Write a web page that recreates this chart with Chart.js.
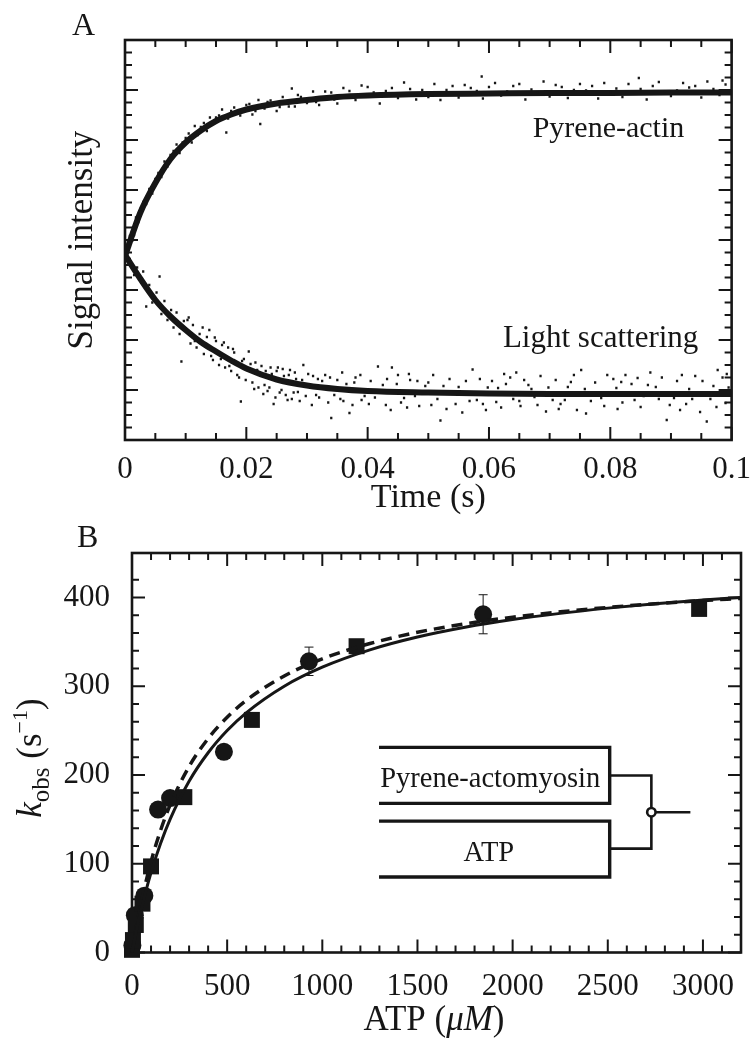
<!DOCTYPE html>
<html>
<head>
<meta charset="utf-8">
<script src="https://cdn.jsdelivr.net/npm/chart.js@4.4.1/dist/chart.umd.min.js"></script>
<style>
  html, body { margin: 0; padding: 0; background: #fff; }
  #wrap { position: relative; width: 754px; height: 1050px; }
  canvas { position: absolute; left: 0; }
  #chart-a { top: 0; }
  #chart-b { top: 520px; }
</style>
</head>
<body>
<div id="wrap">
  <canvas id="chart-a" width="754" height="520"></canvas>
  <canvas id="chart-b" width="754" height="530"></canvas>
</div>
<script>
// ---- panel A : transients ----
const timeTicks = [0, 0.02, 0.04, 0.06, 0.08, 0.1];
const timeTickLabels = ['0', '0.02', '0.04', '0.06', '0.08', '0.1'];
const signalMajor = [0, 1, 2, 3, 4, 5, 6, 7, 8];

// fitted curves
const fitTime = [0, 0.0025, 0.005, 0.0075, 0.01, 0.0125, 0.015, 0.0175, 0.02, 0.025, 0.03, 0.035, 0.04, 0.05, 0.06, 0.07, 0.08, 0.09, 0.1];
const pyreneFit = [3.68, 4.54, 5.14, 5.62, 5.95, 6.19, 6.38, 6.51, 6.61, 6.73, 6.8, 6.86, 6.89, 6.92, 6.93, 6.94, 6.94, 6.95, 6.95];
const scatterFit = [3.7, 3.23, 2.8, 2.47, 2.2, 1.96, 1.77, 1.59, 1.43, 1.21, 1.09, 1.02, 0.98, 0.95, 0.93, 0.92, 0.92, 0.92, 0.92];

// raw points around the fitted band
const pyreneDots = [[0.0008,4.08],[0.0012,3.99],[0.0015,4.1],[0.0018,4.45],[0.0022,4.36],[0.0025,4.62],[0.003,4.76],[0.0035,4.72],[0.004,5.02],[0.0045,4.93],[0.005,5.22],[0.0055,5.34],[0.006,5.26],[0.0065,5.57],[0.007,5.47],[0.0075,5.7],[0.008,5.78],[0.0085,5.91],[0.009,5.74],[0.0095,5.95],[0.01,6.04],[0.0105,6.13],[0.011,5.95],[0.0115,6.28],[0.012,6.10],[0.0125,6.26],[0.013,6.34],[0.0135,6.18],[0.014,6.45],[0.015,6.45],[0.0155,6.49],[0.016,6.61],[0.0167,6.15],[0.017,6.43],[0.0175,6.58],[0.018,6.65],[0.019,6.49],[0.02,6.7],[0.0205,6.72],[0.021,6.51],[0.0215,6.58],[0.022,6.80],[0.0223,6.32],[0.023,6.63],[0.0235,6.76],[0.024,6.79],[0.025,6.58],[0.0255,6.66],[0.026,6.86],[0.027,6.67],[0.0275,7.03],[0.028,6.67],[0.0285,6.9],[0.029,6.86],[0.03,6.74],[0.031,6.97],[0.0315,6.76],[0.032,6.70],[0.033,6.97],[0.034,6.95],[0.0345,6.81],[0.035,6.73],[0.036,7.04],[0.037,6.98],[0.038,6.80],[0.039,7.09],[0.04,7.06],[0.041,6.95],[0.042,6.73],[0.043,6.98],[0.044,7.04],[0.045,6.84],[0.046,7.15],[0.047,7.02],[0.048,6.81],[0.049,7.0],[0.05,6.86],[0.051,7.12],[0.052,6.80],[0.053,7.0],[0.054,7.08],[0.055,6.85],[0.056,7.1],[0.057,7.04],[0.058,6.98],[0.0588,7.27],[0.059,6.83],[0.06,7.06],[0.061,7.14],[0.062,6.89],[0.063,6.97],[0.064,7.08],[0.065,7.12],[0.066,6.81],[0.067,7.01],[0.068,6.95],[0.069,7.17],[0.07,6.87],[0.071,7.1],[0.072,7.06],[0.073,6.84],[0.074,7.0],[0.075,7.12],[0.076,6.99],[0.077,7.08],[0.078,6.83],[0.079,7.14],[0.08,6.96],[0.081,7.03],[0.082,6.86],[0.083,7.12],[0.0847,7.24],[0.085,7.02],[0.086,6.81],[0.087,7.08],[0.088,7.16],[0.089,6.97],[0.09,6.88],[0.091,6.99],[0.092,7.14],[0.093,7.05],[0.094,7.08],[0.095,6.85],[0.096,7.17],[0.097,7.02],[0.098,6.90],[0.0985,7.19],[0.099,7.11]];

const scatterDots = [[0.0008,3.62],[0.0015,3.3],[0.002,3.45],[0.003,3.37],[0.0035,2.67],[0.004,3.1],[0.0045,2.75],[0.0052,2.95],[0.0057,3.27],[0.006,2.52],[0.0065,2.78],[0.007,2.4],[0.0076,2.6],[0.008,2.25],[0.0085,2.55],[0.009,2.12],[0.0093,1.57],[0.0097,2.38],[0.0103,2.4],[0.0105,2.45],[0.0108,1.93],[0.0112,2.3],[0.0115,1.98],[0.0118,1.85],[0.0123,2.12],[0.0128,2.25],[0.013,1.72],[0.0135,2.06],[0.0139,2.2],[0.0142,1.68],[0.0145,1.6],[0.0148,2.05],[0.015,1.98],[0.0155,1.5],[0.0158,1.62],[0.016,1.9],[0.0163,1.95],[0.0165,1.45],[0.017,1.85],[0.0172,1.48],[0.0175,1.38],[0.0178,1.82],[0.018,1.75],[0.0185,1.3],[0.0188,1.25],[0.0191,0.77],[0.0193,1.58],[0.0196,1.62],[0.0199,1.2],[0.0204,1.77],[0.0207,1.52],[0.021,1.15],[0.0213,1.02],[0.0215,1.55],[0.0218,1.4],[0.022,1.05],[0.0225,1.48],[0.0228,0.92],[0.023,1.1],[0.0232,1.38],[0.0235,0.98],[0.0238,1.05],[0.024,1.45],[0.0242,1.32],[0.0245,0.72],[0.0248,0.85],[0.025,1.38],[0.0252,1.45],[0.0255,0.95],[0.0258,1.0],[0.026,1.42],[0.0262,1.28],[0.0265,0.9],[0.0268,0.8],[0.027,1.3],[0.0272,1.4],[0.0275,0.82],[0.0278,0.95],[0.028,1.35],[0.0282,1.22],[0.0285,0.96],[0.0288,0.78],[0.0292,1.2],[0.0294,1.5],[0.0298,0.88],[0.0302,1.32],[0.0308,0.7],[0.031,1.28],[0.0315,0.9],[0.0318,1.22],[0.032,0.85],[0.0325,1.18],[0.033,1.3],[0.0335,0.75],[0.0338,1.25],[0.034,0.44],[0.0345,0.9],[0.035,1.2],[0.0355,0.82],[0.0358,1.35],[0.036,0.78],[0.0365,1.12],[0.037,0.54],[0.0375,0.7],[0.0378,1.15],[0.038,1.25],[0.0388,1.3],[0.039,0.8],[0.0395,0.88],[0.0402,0.72],[0.0405,1.18],[0.0412,0.85],[0.0417,1.47],[0.0425,1.1],[0.043,0.7],[0.0432,1.22],[0.0438,0.6],[0.044,1.45],[0.0448,1.12],[0.045,1.3],[0.0455,0.75],[0.046,0.84],[0.0465,0.65],[0.0468,1.32],[0.047,1.2],[0.0478,0.88],[0.0482,1.18],[0.0485,0.68],[0.0495,1.08],[0.05,1.15],[0.0505,0.7],[0.0508,1.3],[0.0515,0.82],[0.052,0.39],[0.0525,1.08],[0.053,0.62],[0.0535,1.22],[0.0545,0.72],[0.055,1.06],[0.0556,0.55],[0.0562,1.18],[0.0568,0.78],[0.0573,1.41],[0.058,0.8],[0.0585,1.22],[0.059,0.72],[0.0595,0.6],[0.0598,1.05],[0.0605,1.18],[0.0612,0.76],[0.0615,1.04],[0.062,0.65],[0.0625,1.32],[0.0628,1.12],[0.0635,1.25],[0.064,0.82],[0.0645,1.35],[0.065,0.78],[0.0652,0.68],[0.0658,1.2],[0.0665,1.1],[0.067,1.02],[0.0675,0.86],[0.068,0.7],[0.0685,1.28],[0.0694,0.57],[0.0698,1.05],[0.0705,0.8],[0.071,1.2],[0.0715,0.62],[0.0718,0.72],[0.0725,0.8],[0.073,1.06],[0.0735,1.16],[0.074,1.3],[0.0745,0.6],[0.0752,1.4],[0.0758,1.02],[0.076,0.53],[0.0768,0.78],[0.0775,1.15],[0.0785,0.84],[0.079,0.68],[0.0795,1.3],[0.0805,1.22],[0.081,1.04],[0.0812,0.62],[0.0818,1.16],[0.082,0.75],[0.0825,1.3],[0.0835,1.12],[0.084,0.8],[0.0845,1.24],[0.085,0.66],[0.0855,0.88],[0.0862,1.1],[0.0866,1.35],[0.0875,1.06],[0.088,0.82],[0.0885,1.25],[0.0893,0.4],[0.0898,0.7],[0.0905,0.84],[0.091,1.18],[0.0915,0.6],[0.0918,1.3],[0.0925,0.72],[0.093,1.02],[0.0935,0.82],[0.094,1.28],[0.0948,0.56],[0.0952,1.18],[0.0959,0.37],[0.0965,0.82],[0.097,1.08],[0.0975,0.66],[0.0977,1.4],[0.0985,1.25],[0.099,0.74],[0.0992,1.32],[0.0995,1.05]];

// ---- panel B : kobs vs ATP ----
const atpTicks = [0, 500, 1000, 1500, 2000, 2500, 3000];
const kobsTicks = [0, 100, 200, 300, 400];

const fitAtp = [0, 25, 50, 100, 150, 200, 300, 400, 500, 600, 800, 1000, 1250, 1500, 1750, 2000, 2250, 2500, 2750, 3000, 3200];
const solidFit = [0, 26.5, 50, 90, 122.7, 150, 192.9, 225, 250, 270, 300, 321.4, 340.9, 355.3, 366.3, 375, 382, 387.9, 392.9, 397, 400];
const dashedFit = [0, 31, 57.9, 102.3, 137.5, 166, 209.5, 241, 265, 283.9, 311.5, 330.8, 348, 360.7, 370.2, 377.7, 383.7, 388.7, 392.9, 396.4, 398.9];

const squareAtp = [0, 5, 20, 55, 100, 275, 630, 1180, 2980];
const squareKobs = [3, 14, 31, 55, 97, 175, 262, 345, 387];
const circleAtp = [2, 15, 65, 137, 200, 483, 930, 1845];
const circleKobs = [8, 42, 64, 161, 174, 226, 328, 381];
const circleErr = [0, 0, 0, 0, 0, 0, 16, 22];

const ink = '#161616';
const serif = '"Liberation Serif", "DejaVu Serif", serif';

Chart.defaults.font.family = serif;
Chart.defaults.font.size = 31;
Chart.defaults.color = ink;

function pairs(xs, ys) {
  return xs.map((x, i) => ({x: x, y: ys[i]}));
}
function isMajor(v, list) {
  return list.some(m => Math.abs(m - v) < 1e-7);
}

// box round the plot with inward ticks on all four sides
const frameTicks = {
  id: 'frameTicks',
  beforeDatasetsDraw(chart, args, opts) {
    const {ctx, chartArea: a, scales: {x, y}} = chart;
    ctx.save();
    ctx.strokeStyle = ink;
    ctx.lineWidth = 2;
    ctx.beginPath();
    x.ticks.forEach(t => {
      const px = x.getPixelForValue(t.value);
      const len = isMajor(t.value, opts.xMajor) ? 13 : 7;
      ctx.moveTo(px, a.bottom); ctx.lineTo(px, a.bottom - len);
      ctx.moveTo(px, a.top); ctx.lineTo(px, a.top + len);
    });
    y.ticks.forEach(t => {
      const py = y.getPixelForValue(t.value);
      const len = isMajor(t.value, opts.yMajor) ? 13 : 7;
      ctx.moveTo(a.left, py); ctx.lineTo(a.left + len, py);
      ctx.moveTo(a.right, py); ctx.lineTo(a.right - len, py);
    });
    ctx.stroke();
    ctx.lineWidth = 2.6;
    ctx.strokeRect(a.left, a.top, a.right - a.left, a.bottom - a.top);
    ctx.restore();
  }
};

function drawRuns(ctx, runs, cx, cy, rotate) {
  ctx.save();
  ctx.translate(cx, cy);
  if (rotate) ctx.rotate(-Math.PI / 2);
  ctx.textAlign = 'left';
  ctx.textBaseline = 'alphabetic';
  ctx.fillStyle = ink;
  let total = 0;
  runs.forEach(r => { ctx.font = r.font; r.w = ctx.measureText(r.text).width; total += r.w; });
  let x = -total / 2;
  runs.forEach(r => { ctx.font = r.font; ctx.fillText(r.text, x, r.dy || 0); x += r.w; });
  ctx.restore();
}

const labelsA = {
  id: 'labelsA',
  afterDraw(chart) {
    const {ctx, scales: {x, y}} = chart;
    ctx.save();
    ctx.fillStyle = ink;
    ctx.textBaseline = 'alphabetic';
    ctx.textAlign = 'left';
    ctx.font = '32px ' + serif;
    ctx.fillText('A', 72, 35);
    ctx.font = '30px ' + serif;
    ctx.fillText('Pyrene-actin', x.getPixelForValue(0.0672), y.getPixelForValue(6.06));
    ctx.font = '31px ' + serif;
    ctx.fillText('Light scattering', x.getPixelForValue(0.0623), y.getPixelForValue(1.87));
    ctx.restore();
  }
};

new Chart(document.getElementById('chart-a'), {
  type: 'scatter',
  data: {
    datasets: [
      {
        data: pyreneDots.map(p => ({x: p[0], y: p[1]})),
        pointStyle: 'rect', pointRadius: 1.6, borderWidth: 0, backgroundColor: ink
      },
      {
        data: scatterDots.map(p => ({x: p[0], y: p[1]})),
        pointStyle: 'rect', pointRadius: 1.6, borderWidth: 0, backgroundColor: ink
      },
      {
        data: pairs(fitTime, pyreneFit), showLine: true, pointRadius: 0,
        borderColor: ink, borderWidth: 6, cubicInterpolationMode: 'monotone'
      },
      {
        data: pairs(fitTime, scatterFit), showLine: true, pointRadius: 0,
        borderColor: ink, borderWidth: 6, cubicInterpolationMode: 'monotone'
      }
    ]
  },
  options: {
    responsive: false,
    animation: false,
    layout: {padding: {top: 40, right: 17, left: 0, bottom: 0}},
    plugins: {
      legend: {display: false},
      tooltip: {enabled: false},
      frameTicks: {xMajor: timeTicks, yMajor: signalMajor}
    },
    scales: {
      x: {
        type: 'linear', min: 0, max: 0.1,
        grid: {display: false}, border: {display: false},
        ticks: {
          stepSize: 0.005, autoSkip: false, maxRotation: 0, padding: 3,
          callback: v => {
            const i = timeTicks.findIndex(m => Math.abs(m - v) < 1e-7);
            return i >= 0 ? timeTickLabels[i] : '';
          }
        },
        title: {display: true, text: 'Time (s)', font: {size: 34}, padding: {top: 0, bottom: 2}},
        afterFit: s => { s.height = 80; }
      },
      y: {
        type: 'linear', min: 0, max: 8,
        grid: {display: false}, border: {display: false},
        ticks: {stepSize: 0.25, autoSkip: false, callback: () => ''},
        title: {display: true, text: 'Signal intensity', font: {size: 35}, padding: {top: 62, bottom: 0}},
        afterFit: s => { s.width = 125; }
      }
    }
  },
  plugins: [frameTicks, labelsA]
});

const errorBars = {
  id: 'errorBars',
  beforeDatasetsDraw(chart) {
    const {ctx, scales: {x, y}} = chart;
    ctx.save();
    ctx.strokeStyle = ink;
    ctx.lineWidth = 1;
    ctx.beginPath();
    circleAtp.forEach((a, i) => {
      if (!circleErr[i]) return;
      const px = x.getPixelForValue(a);
      const top = y.getPixelForValue(circleKobs[i] + circleErr[i]);
      const bot = y.getPixelForValue(circleKobs[i] - circleErr[i]);
      ctx.moveTo(px, top); ctx.lineTo(px, bot);
      ctx.moveTo(px - 4.5, top); ctx.lineTo(px + 4.5, top);
      ctx.moveTo(px - 4.5, bot); ctx.lineTo(px + 4.5, bot);
    });
    ctx.stroke();
    ctx.restore();
  }
};

// reaction scheme, placed in data units of the plot
const schemeB = {
  id: 'schemeB',
  afterDatasetsDraw(chart) {
    const {ctx, scales: {x, y}} = chart;
    const X = v => x.getPixelForValue(v);
    const Y = v => y.getPixelForValue(v);
    ctx.save();
    ctx.strokeStyle = ink;
    ctx.lineCap = 'butt';
    ctx.lineJoin = 'miter';
    ctx.lineWidth = 3.4;
    ctx.beginPath();
    ctx.moveTo(X(1298), Y(231)); ctx.lineTo(X(2510), Y(231)); ctx.lineTo(X(2510), Y(168)); ctx.lineTo(X(1298), Y(168));
    ctx.moveTo(X(1298), Y(148)); ctx.lineTo(X(2510), Y(148)); ctx.lineTo(X(2510), Y(85)); ctx.lineTo(X(1298), Y(85));
    ctx.stroke();
    ctx.lineWidth = 2.6;
    ctx.beginPath();
    ctx.moveTo(X(2510), Y(199.4)); ctx.lineTo(X(2729), Y(199.4)); ctx.lineTo(X(2729), Y(117)); ctx.lineTo(X(2510), Y(117));
    ctx.moveTo(X(2729), Y(158)); ctx.lineTo(X(2934), Y(158));
    ctx.stroke();
    ctx.beginPath();
    ctx.arc(X(2729), Y(158), 4.2, 0, Math.PI * 2);
    ctx.fillStyle = '#fff';
    ctx.fill();
    ctx.stroke();
    ctx.fillStyle = ink;
    ctx.textAlign = 'center';
    ctx.textBaseline = 'alphabetic';
    ctx.font = '28.5px ' + serif;
    ctx.fillText('Pyrene-actomyosin', X(1882), Y(186));
    ctx.fillText('ATP', X(1875), Y(103));
    ctx.restore();
  },
  afterDraw(chart) {
    const {ctx} = chart;
    ctx.save();
    ctx.fillStyle = ink;
    ctx.textAlign = 'left';
    ctx.textBaseline = 'alphabetic';
    ctx.font = '32px ' + serif;
    ctx.fillText('B', 77, 27);
    ctx.restore();
    drawRuns(ctx, [
      {text: 'ATP (', font: '35px ' + serif},
      {text: '\u03bcM', font: 'italic 35px ' + serif},
      {text: ')', font: '35px ' + serif}
    ], 434, 510, false);
    drawRuns(ctx, [
      {text: 'k', font: 'italic 35px ' + serif},
      {text: 'obs', font: '25px ' + serif, dy: 8},
      {text: ' (s', font: '35px ' + serif},
      {text: '\u22121', font: '22px ' + serif, dy: -14},
      {text: ')', font: '35px ' + serif}
    ], 41, 238, true);
  }
};

new Chart(document.getElementById('chart-b'), {
  type: 'scatter',
  data: {
    datasets: [
      {
        data: pairs(fitAtp, solidFit), showLine: true, pointRadius: 0,
        borderColor: ink, borderWidth: 3, cubicInterpolationMode: 'monotone'
      },
      {
        data: pairs(fitAtp, dashedFit), showLine: true, pointRadius: 0,
        borderColor: ink, borderWidth: 3.5, borderDash: [11, 7], cubicInterpolationMode: 'monotone'
      },
      {
        data: pairs(squareAtp, squareKobs),
        pointStyle: 'rect', pointRadius: 11.3, borderWidth: 0, backgroundColor: ink
      },
      {
        data: pairs(circleAtp, circleKobs),
        pointStyle: 'circle', pointRadius: 9, borderWidth: 0, backgroundColor: ink
      }
    ]
  },
  options: {
    responsive: false,
    animation: false,
    clip: false,
    layout: {padding: {top: 33, right: 13, left: 0, bottom: 0}},
    plugins: {
      legend: {display: false},
      tooltip: {enabled: false},
      frameTicks: {xMajor: atpTicks, yMajor: kobsTicks}
    },
    scales: {
      x: {
        type: 'linear', min: 0, max: 3200,
        grid: {display: false}, border: {display: false},
        ticks: {
          stepSize: 100, autoSkip: false, maxRotation: 0, padding: 8,
          callback: v => isMajor(v, atpTicks) ? String(v) : ''
        },
        afterFit: s => { s.height = 97.5; }
      },
      y: {
        type: 'linear', min: 0, max: 450,
        grid: {display: false}, border: {display: false},
        ticks: {
          stepSize: 20, autoSkip: false, padding: 14,
          callback: v => isMajor(v, kobsTicks) ? String(v) : ''
        },
        afterFit: s => { s.width = 132; }
      }
    }
  },
  plugins: [frameTicks, errorBars, schemeB]
});
</script>
</body>
</html>
